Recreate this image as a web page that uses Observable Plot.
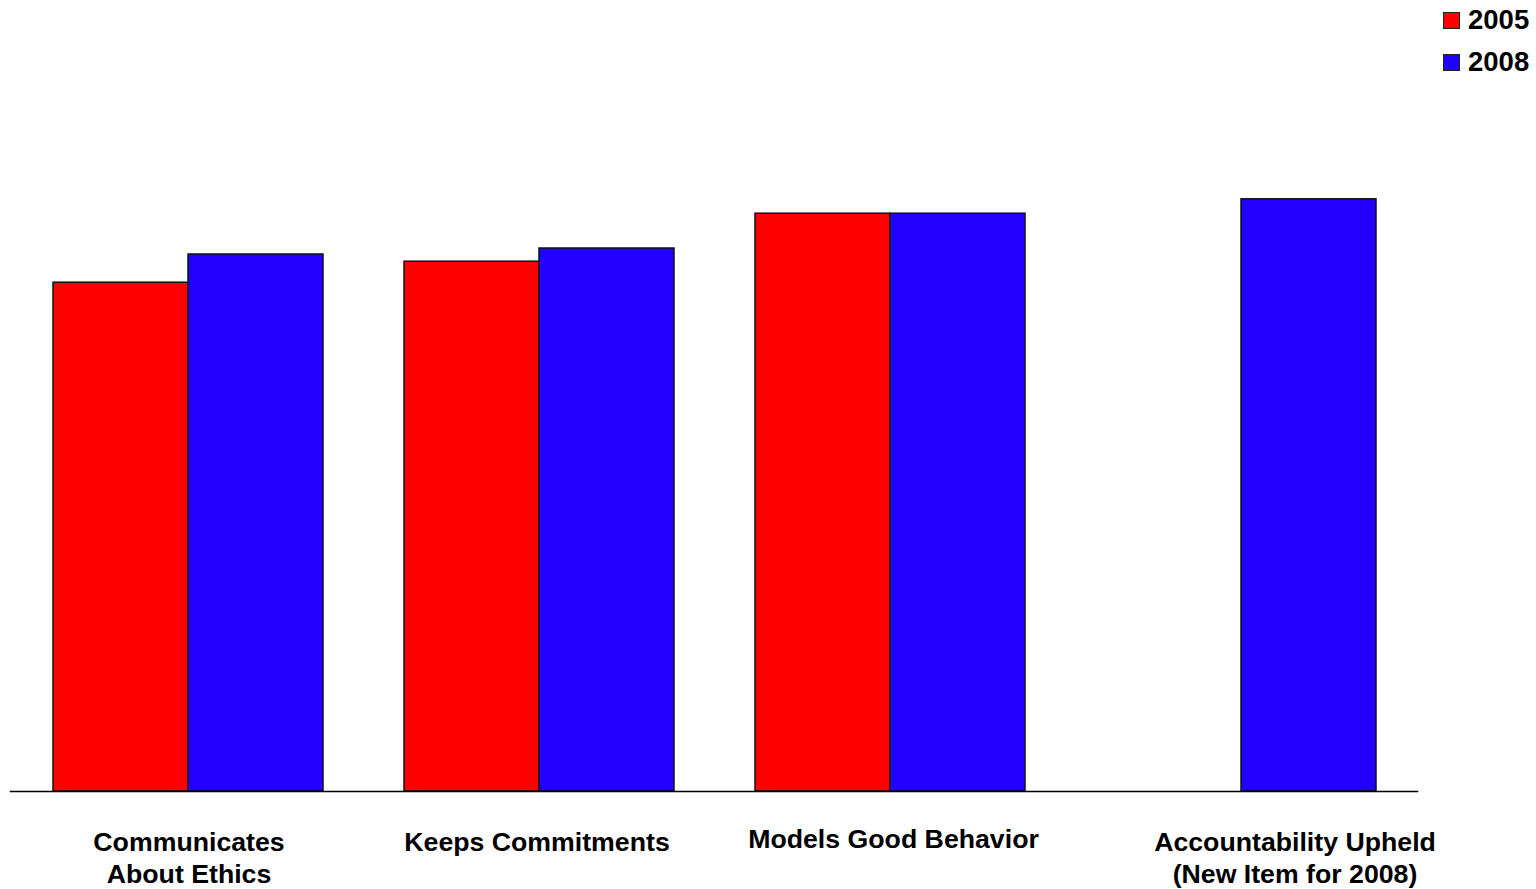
<!DOCTYPE html>
<html>
<head>
<meta charset="utf-8">
<script src="https://cdn.jsdelivr.net/npm/d3@7"></script>
<script src="https://cdn.jsdelivr.net/npm/@observablehq/plot@0.6"></script>
<style>
  html, body { margin: 0; padding: 0; background: #fff; }
  #wrap { position: relative; width: 1536px; height: 889px; font-family: "Liberation Sans", Arial, sans-serif; }
  #legend { position: absolute; left: 1443px; top: 4px; font-weight: bold; font-size: 27.5px; color: #000; }
  .item { display: flex; align-items: center; height: 32px; margin-bottom: 10px; }
  .sw { width: 15px; height: 15px; border: 1.5px solid #222; margin-right: 8px; box-sizing: content-box; }
</style>
</head>
<body>
<div id="wrap">
  <div id="chart"></div>
  <div id="legend"></div>
</div>
<script>
const categories = ["Communicates\nAbout Ethics", "Keeps Commitments", "Models Good Behavior", "Accountability Upheld\n(New Item for 2008)"];
const years = ["2005", "2008"];
const colors = ["#ff0000", "#2200ff"];
const values2005 = [84.8, 88.3, 96.3, null];
const values2008 = [89.5, 90.5, 96.3, 98.7];

const data = [];
categories.forEach((c, i) => {
  if (values2005[i] != null) data.push({category: c, year: "2005", value: values2005[i]});
  if (values2008[i] != null) data.push({category: c, year: "2008", value: values2008[i]});
});

const labelStyle = {frameAnchor: "bottom", lineAnchor: "top", fontSize: 26.7, fontWeight: "bold", lineHeight: 1.2, fill: "#000"};
const label = (i, dx, dy) => Plot.text([categories[i]], {fx: d => d, text: d => d, dx, dy, ...labelStyle});

const chart = Plot.plot({
  width: 1536,
  height: 889,
  marginTop: 191,
  marginBottom: 98,
  marginLeft: 10,
  marginRight: 119,
  style: {fontFamily: "'Liberation Sans', Arial, sans-serif", background: "#fff"},
  fx: {domain: categories, paddingInner: 0.228, paddingOuter: 0.114, axis: null},
  x: {domain: years, padding: 0, axis: null},
  y: {domain: [0, 100], axis: null},
  color: {domain: years, range: colors},
  marks: [
    Plot.barY(data, {fx: "category", x: "year", y: "value", fill: "year", stroke: "#111", strokeWidth: 1.5}),
    label(0, 1, 37),
    label(1, -2, 37),
    label(2, 3.5, 33.5),
    label(3, 54, 36.5),
    Plot.frame({anchor: "bottom", facet: "super", stroke: "#000", strokeWidth: 1.5, insetLeft: -42, insetRight: -41})
  ]
});
document.getElementById("chart").appendChild(chart);

const legend = document.getElementById("legend");
years.forEach((y, i) => {
  const item = document.createElement("div");
  item.className = "item";
  const sw = document.createElement("div");
  sw.className = "sw";
  sw.style.background = colors[i];
  const t = document.createElement("span");
  t.textContent = y;
  item.appendChild(sw);
  item.appendChild(t);
  legend.appendChild(item);
});
</script>
</body>
</html>
